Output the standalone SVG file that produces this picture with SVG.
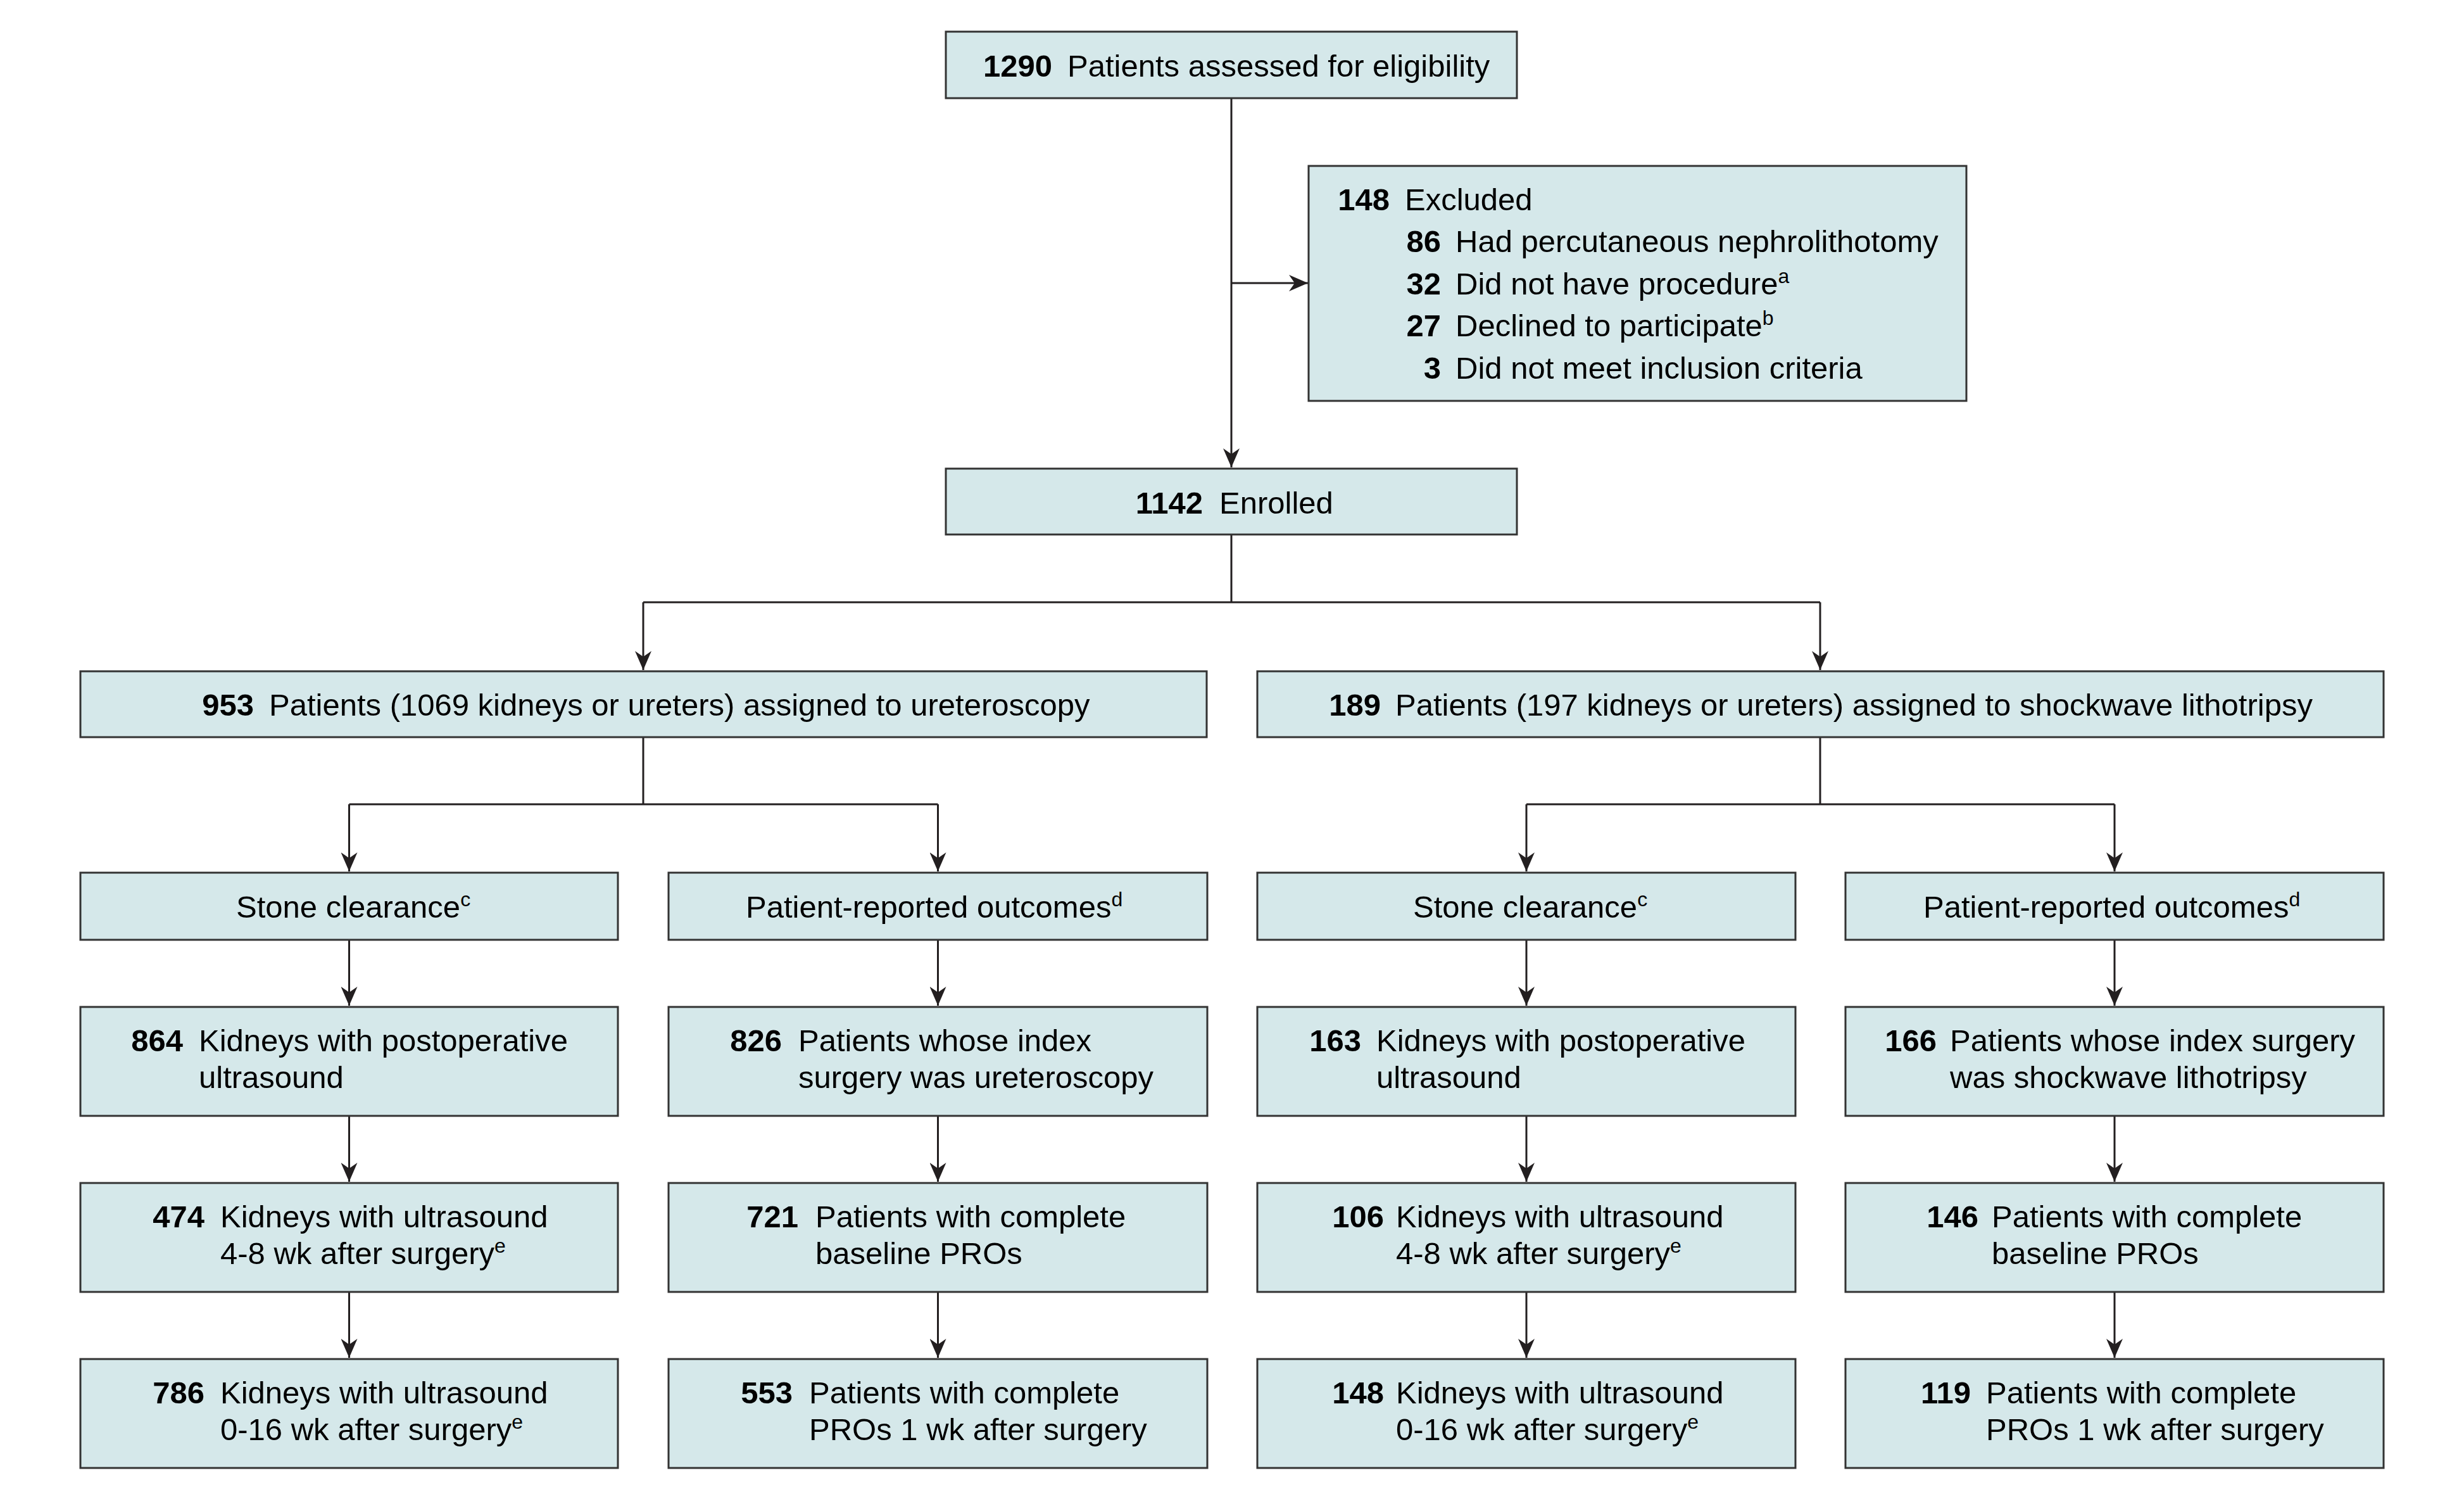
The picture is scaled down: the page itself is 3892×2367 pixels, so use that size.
<svg xmlns="http://www.w3.org/2000/svg" width="3892" height="2367" viewBox="0 0 3892 2367">
<style>
.bg{fill:#ffffff}
.box{fill:#d5e8ea;stroke:#333333;stroke-width:3}
.ln{fill:none;stroke:#231f20;stroke-width:3}
.t{font-family:"Liberation Sans",Arial,sans-serif;font-size:49px;fill:#000000}
.n{font-weight:bold;text-anchor:end}
.sup{font-size:32px}
</style>
<defs>
<marker id="ah" viewBox="0 0 30 26" refX="30" refY="13" markerWidth="30" markerHeight="26" markerUnits="userSpaceOnUse" orient="auto">
<path d="M0,0 L30,13 L0,26 L9,13 Z" fill="#231f20"/>
</marker>
</defs>
<rect class="bg" x="0" y="0" width="3892" height="2367"/>

<g id="connectors">
<path class="ln" d="M1945,155 V738" marker-end="url(#ah)"/>
<path class="ln" d="M1945,447 H2066" marker-end="url(#ah)"/>
<path class="ln" d="M1945,844 V951 M1016,951 H2875"/>
<path class="ln" d="M1016,951 V1058" marker-end="url(#ah)"/>
<path class="ln" d="M2875,951 V1058" marker-end="url(#ah)"/>
<path class="ln" d="M1016,1164 V1270 M551.5,1270 H1481.5"/>
<path class="ln" d="M551.5,1270 V1376" marker-end="url(#ah)"/>
<path class="ln" d="M1481.5,1270 V1376" marker-end="url(#ah)"/>
<path class="ln" d="M2875,1164 V1270 M2411,1270 H3340"/>
<path class="ln" d="M2411,1270 V1376" marker-end="url(#ah)"/>
<path class="ln" d="M3340,1270 V1376" marker-end="url(#ah)"/>
<path class="ln" d="M551.5,1484 V1588" marker-end="url(#ah)"/>
<path class="ln" d="M1481.5,1484 V1588" marker-end="url(#ah)"/>
<path class="ln" d="M2411,1484 V1588" marker-end="url(#ah)"/>
<path class="ln" d="M3340,1484 V1588" marker-end="url(#ah)"/>
<path class="ln" d="M551.5,1762 V1866" marker-end="url(#ah)"/>
<path class="ln" d="M1481.5,1762 V1866" marker-end="url(#ah)"/>
<path class="ln" d="M2411,1762 V1866" marker-end="url(#ah)"/>
<path class="ln" d="M3340,1762 V1866" marker-end="url(#ah)"/>
<path class="ln" d="M551.5,2040 V2144" marker-end="url(#ah)"/>
<path class="ln" d="M1481.5,2040 V2144" marker-end="url(#ah)"/>
<path class="ln" d="M2411,2040 V2144" marker-end="url(#ah)"/>
<path class="ln" d="M3340,2040 V2144" marker-end="url(#ah)"/>
</g>

<g id="assessed">
<rect class="box" x="1494" y="50" width="902" height="105"/>
<text class="t n" x="1662" y="121">1290</text>
<text class="t" x="1686" y="121">Patients assessed for eligibility</text>
</g>

<g id="excluded">
<rect class="box" x="2067" y="262" width="1039" height="371"/>
<text class="t n" x="2195" y="332">148</text>
<text class="t" x="2219" y="332">Excluded</text>
<text class="t n" x="2276" y="398">86</text>
<text class="t" x="2299" y="398">Had percutaneous nephrolithotomy</text>
<text class="t n" x="2276" y="465">32</text>
<text class="t" x="2299" y="465">Did not have procedure<tspan class="sup" dy="-18">a</tspan></text>
<text class="t n" x="2276" y="531">27</text>
<text class="t" x="2299" y="531">Declined to participate<tspan class="sup" dy="-18">b</tspan></text>
<text class="t n" x="2276" y="598">3</text>
<text class="t" x="2299" y="598">Did not meet inclusion criteria</text>
</g>

<g id="enrolled">
<rect class="box" x="1494" y="740" width="902" height="104"/>
<text class="t n" x="1900" y="811">1142</text>
<text class="t" x="1926" y="811">Enrolled</text>
</g>

<g id="ureteroscopy">
<rect class="box" x="127" y="1060" width="1779" height="104"/>
<text class="t n" x="401" y="1130">953</text>
<text class="t" x="425" y="1130">Patients (1069 kidneys or ureters) assigned to ureteroscopy</text>
</g>

<g id="swl">
<rect class="box" x="1986" y="1060" width="1779" height="104"/>
<text class="t n" x="2181" y="1130">189</text>
<text class="t" x="2204" y="1130">Patients (197 kidneys or ureters) assigned to shockwave lithotripsy</text>
</g>

<g id="urs-stone">
<rect class="box" x="127" y="1378" width="849" height="106"/>
<text class="t" x="373" y="1449">Stone clearance<tspan class="sup" dy="-18">c</tspan></text>
</g>
<g id="urs-pro">
<rect class="box" x="1056" y="1378" width="851" height="106"/>
<text class="t" x="1178" y="1449">Patient-reported outcomes<tspan class="sup" dy="-18">d</tspan></text>
</g>
<g id="swl-stone">
<rect class="box" x="1986" y="1378" width="850" height="106"/>
<text class="t" x="2232" y="1449">Stone clearance<tspan class="sup" dy="-18">c</tspan></text>
</g>
<g id="swl-pro">
<rect class="box" x="2915" y="1378" width="850" height="106"/>
<text class="t" x="3038" y="1449">Patient-reported outcomes<tspan class="sup" dy="-18">d</tspan></text>
</g>

<g id="urs-864">
<rect class="box" x="127" y="1590" width="849" height="172"/>
<text class="t n" x="289" y="1660">864</text>
<text class="t" x="314" y="1660">Kidneys with postoperative</text>
<text class="t" x="314" y="1718">ultrasound</text>
</g>
<g id="urs-826">
<rect class="box" x="1056" y="1590" width="851" height="172"/>
<text class="t n" x="1235" y="1660">826</text>
<text class="t" x="1261" y="1660">Patients whose index</text>
<text class="t" x="1261" y="1718">surgery was ureteroscopy</text>
</g>
<g id="swl-163">
<rect class="box" x="1986" y="1590" width="850" height="172"/>
<text class="t n" x="2150" y="1660">163</text>
<text class="t" x="2174" y="1660">Kidneys with postoperative</text>
<text class="t" x="2174" y="1718">ultrasound</text>
</g>
<g id="swl-166">
<rect class="box" x="2915" y="1590" width="850" height="172"/>
<text class="t n" x="3059" y="1660">166</text>
<text class="t" x="3080" y="1660">Patients whose index surgery</text>
<text class="t" x="3080" y="1718">was shockwave lithotripsy</text>
</g>

<g id="urs-474">
<rect class="box" x="127" y="1868" width="849" height="172"/>
<text class="t n" x="323" y="1938">474</text>
<text class="t" x="348" y="1938">Kidneys with ultrasound</text>
<text class="t" x="348" y="1996">4-8 wk after surgery<tspan class="sup" dy="-18">e</tspan></text>
</g>
<g id="urs-721">
<rect class="box" x="1056" y="1868" width="851" height="172"/>
<text class="t n" x="1261" y="1938">721</text>
<text class="t" x="1288" y="1938">Patients with complete</text>
<text class="t" x="1288" y="1996">baseline PROs</text>
</g>
<g id="swl-106">
<rect class="box" x="1986" y="1868" width="850" height="172"/>
<text class="t n" x="2186" y="1938">106</text>
<text class="t" x="2205" y="1938">Kidneys with ultrasound</text>
<text class="t" x="2205" y="1996">4-8 wk after surgery<tspan class="sup" dy="-18">e</tspan></text>
</g>
<g id="swl-146">
<rect class="box" x="2915" y="1868" width="850" height="172"/>
<text class="t n" x="3125" y="1938">146</text>
<text class="t" x="3146" y="1938">Patients with complete</text>
<text class="t" x="3146" y="1996">baseline PROs</text>
</g>

<g id="urs-786">
<rect class="box" x="127" y="2146" width="849" height="172"/>
<text class="t n" x="323" y="2216">786</text>
<text class="t" x="348" y="2216">Kidneys with ultrasound</text>
<text class="t" x="348" y="2274">0-16 wk after surgery<tspan class="sup" dy="-18">e</tspan></text>
</g>
<g id="urs-553">
<rect class="box" x="1056" y="2146" width="851" height="172"/>
<text class="t n" x="1252" y="2216">553</text>
<text class="t" x="1278" y="2216">Patients with complete</text>
<text class="t" x="1278" y="2274">PROs 1 wk after surgery</text>
</g>
<g id="swl-148">
<rect class="box" x="1986" y="2146" width="850" height="172"/>
<text class="t n" x="2186" y="2216">148</text>
<text class="t" x="2205" y="2216">Kidneys with ultrasound</text>
<text class="t" x="2205" y="2274">0-16 wk after surgery<tspan class="sup" dy="-18">e</tspan></text>
</g>
<g id="swl-119">
<rect class="box" x="2915" y="2146" width="850" height="172"/>
<text class="t n" x="3113" y="2216">119</text>
<text class="t" x="3137" y="2216">Patients with complete</text>
<text class="t" x="3137" y="2274">PROs 1 wk after surgery</text>
</g>
</svg>
